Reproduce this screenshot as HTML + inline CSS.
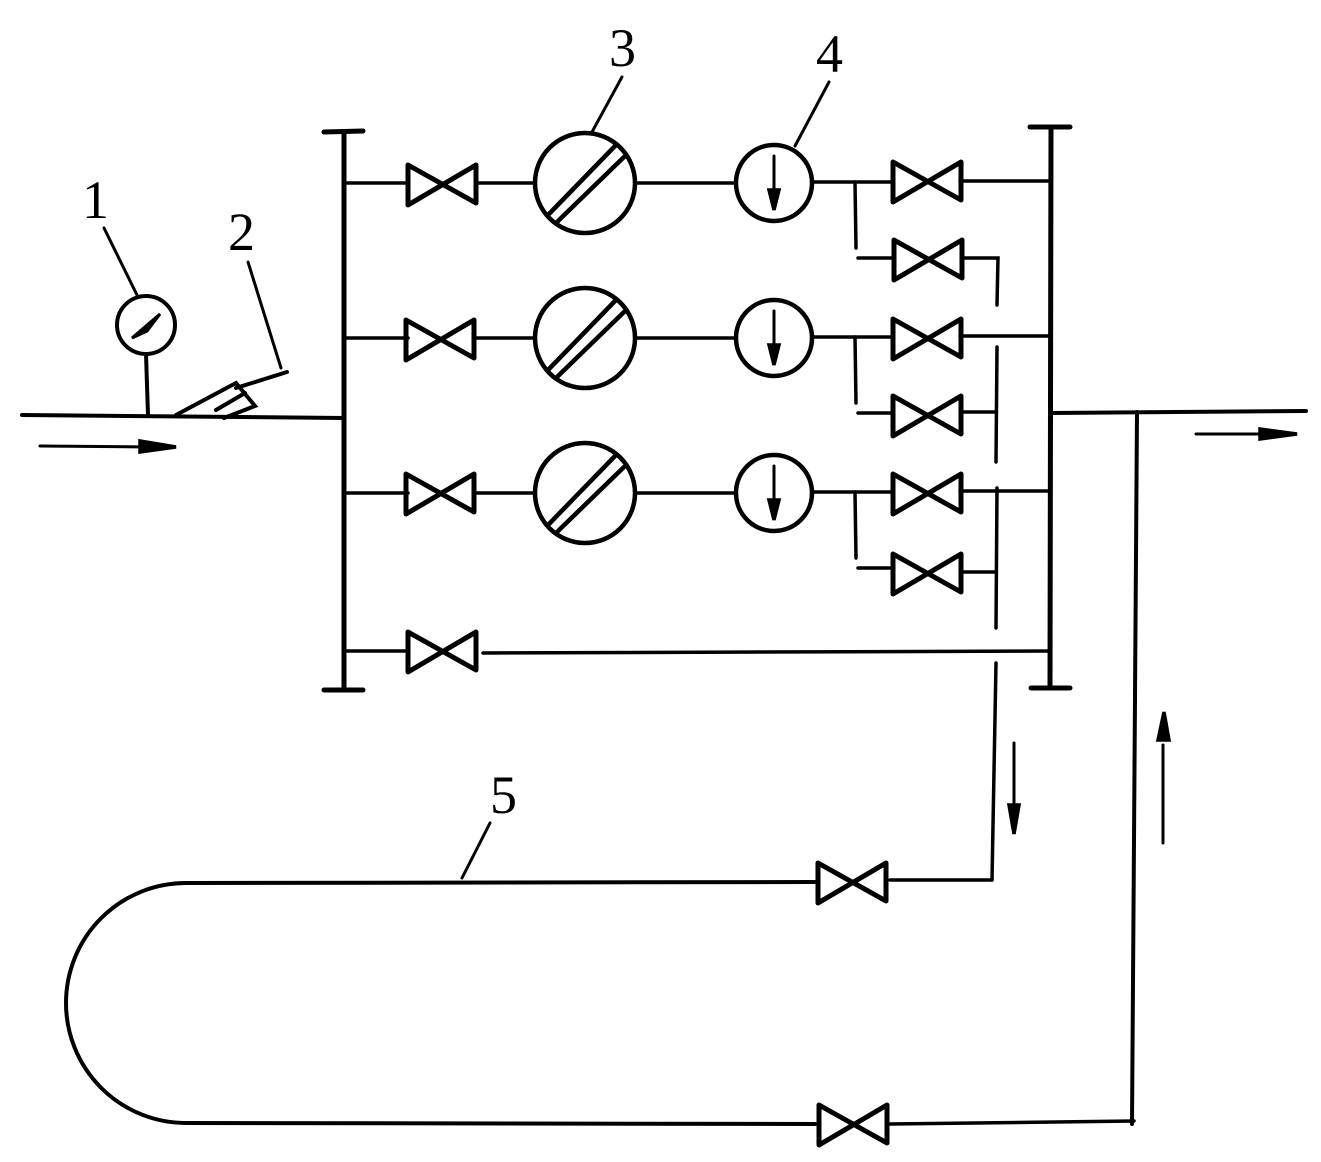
<!DOCTYPE html>
<html><head><meta charset="utf-8"><style>
html,body{margin:0;padding:0;background:#fff;width:1321px;height:1162px;overflow:hidden}
svg{display:block}
text{font-family:"Liberation Serif",serif;font-size:54px;fill:#000}
</style></head><body>
<svg width="1321" height="1162" viewBox="0 0 1321 1162" xmlns="http://www.w3.org/2000/svg">
<defs>
<g id="v"><path d="M-34,-19 L-34,21 L34,-19 L34,19 Z" fill="none" stroke="#000" stroke-width="5" stroke-linejoin="round"/></g>
</defs>
<g stroke="#000" stroke-width="3.5" fill="none" stroke-linecap="round">
<!-- inlet pipe -->
<line x1="22" y1="415" x2="344" y2="418" stroke-width="4"/>
<line x1="40" y1="446" x2="150" y2="447" stroke-width="3"/>
<path d="M140,441 L176,447 L140,452 Z" fill="#000"/>
<!-- gauge -->
<circle cx="146" cy="325" r="29" stroke-width="4"/>
<line x1="146" y1="354" x2="148" y2="415" stroke-width="4"/>
<path d="M132,338 L160,314 L147,331 Z" fill="#000" stroke-width="3"/>
<line x1="104" y1="228" x2="137" y2="295" stroke-width="3"/>
<!-- thermometer -->
<path d="M176,415 L236,383 L255,406 L224,418" stroke-width="4"/>
<line x1="216" y1="410" x2="245" y2="393" stroke-width="4"/>
<line x1="236" y1="388" x2="287" y2="372" stroke-width="4"/>
<line x1="248" y1="262" x2="281" y2="368" stroke-width="3"/>
<!-- left bus -->
<line x1="344" y1="132" x2="344" y2="690" stroke-width="5"/>
<line x1="324" y1="132" x2="363" y2="131" stroke-width="5"/>
<line x1="324" y1="690" x2="363" y2="690" stroke-width="5"/>
<!-- right bus -->
<line x1="1051" y1="128" x2="1050" y2="688" stroke-width="5"/>
<line x1="1030" y1="127" x2="1070" y2="127" stroke-width="5"/>
<line x1="1031" y1="688" x2="1070" y2="688" stroke-width="5"/>
<!-- outlet -->
<line x1="1051" y1="413" x2="1306" y2="411" stroke-width="4"/>
<line x1="1196" y1="434" x2="1270" y2="434" stroke-width="3"/>
<path d="M1260,429 L1297,434 L1260,439 Z" fill="#000"/>
<!-- return line -->
<line x1="1137" y1="412" x2="1132" y2="1124" stroke-width="4"/>
<line x1="1163" y1="745" x2="1163" y2="843" stroke-width="3"/>
<path d="M1158,740 L1164,712 L1169,740 Z" fill="#000"/>
<!-- rows -->
<g id="row">
<line x1="344" y1="183" x2="408" y2="183"/>
<line x1="476" y1="183" x2="535" y2="183"/>
<circle cx="585" cy="183" r="50" stroke-width="4.5"/>
<line x1="549" y1="214" x2="615" y2="146" stroke-width="4.5"/>
<line x1="557" y1="222" x2="624" y2="157" stroke-width="4.5"/>
<line x1="637" y1="183" x2="736" y2="183"/>
<circle cx="774" cy="183" r="38" stroke-width="4.5"/>
<line x1="774" y1="156" x2="774" y2="195" stroke-width="3"/>
<path d="M769,190 L774,210 L779,190 Z" fill="#000"/>
<line x1="812" y1="182" x2="893" y2="182"/>
<line x1="960" y1="181" x2="1050" y2="181"/>
<line x1="855" y1="182" x2="856" y2="248"/>
<line x1="858" y1="258" x2="893" y2="258"/>
</g>
<use href="#row" transform="translate(0,155)"/>
<use href="#row" transform="translate(0,310)"/>
<!-- right secondary valve outlet lines -->
<path d="M963,258 L998,258 L997,305"/>
<line x1="997" y1="347" x2="996" y2="462"/>
<line x1="962" y1="412" x2="996" y2="412"/>
<line x1="997" y1="488" x2="996" y2="628"/>
<line x1="962" y1="572" x2="996" y2="572"/>
<line x1="996" y1="663" x2="992" y2="880"/>
<line x1="890" y1="880" x2="992" y2="880"/>
<line x1="1014" y1="743" x2="1014" y2="810" stroke-width="3"/>
<path d="M1009,805 L1014,834 L1019,805 Z" fill="#000"/>
<!-- bypass -->
<line x1="344" y1="651" x2="407" y2="651"/>
<line x1="483" y1="653" x2="1050" y2="651"/>
<!-- loop -->
<path d="M815,882 L186,883 A120,120 0 0 0 186,1123 L815,1124" stroke-width="4"/>
<line x1="890" y1="1124" x2="1134" y2="1121"/>
<line x1="462" y1="878" x2="490" y2="823" stroke-width="3"/>
<!-- leaders 3,4 -->
<line x1="592" y1="132" x2="622" y2="77" stroke-width="3"/>
<line x1="795" y1="146" x2="829" y2="82" stroke-width="3"/>
</g>
<!-- valves -->
<use href="#v" transform="translate(442,184)"/>
<use href="#v" transform="translate(440,339)"/>
<use href="#v" transform="translate(440,493)"/>
<use href="#v" transform="translate(442,651)"/>
<use href="#v" transform="translate(927,181)"/>
<use href="#v" transform="translate(928,259)"/>
<use href="#v" transform="translate(927,338)"/>
<use href="#v" transform="translate(927,415)"/>
<use href="#v" transform="translate(927,493)"/>
<use href="#v" transform="translate(927,573)"/>
<use href="#v" transform="translate(852,882)"/>
<use href="#v" transform="translate(853,1124)"/>
<text x="82" y="218">1</text>
<text x="228" y="250">2</text>
<text x="609" y="66">3</text>
<text x="816" y="72">4</text>
<text x="490" y="813">5</text>
</svg>
</body></html>
